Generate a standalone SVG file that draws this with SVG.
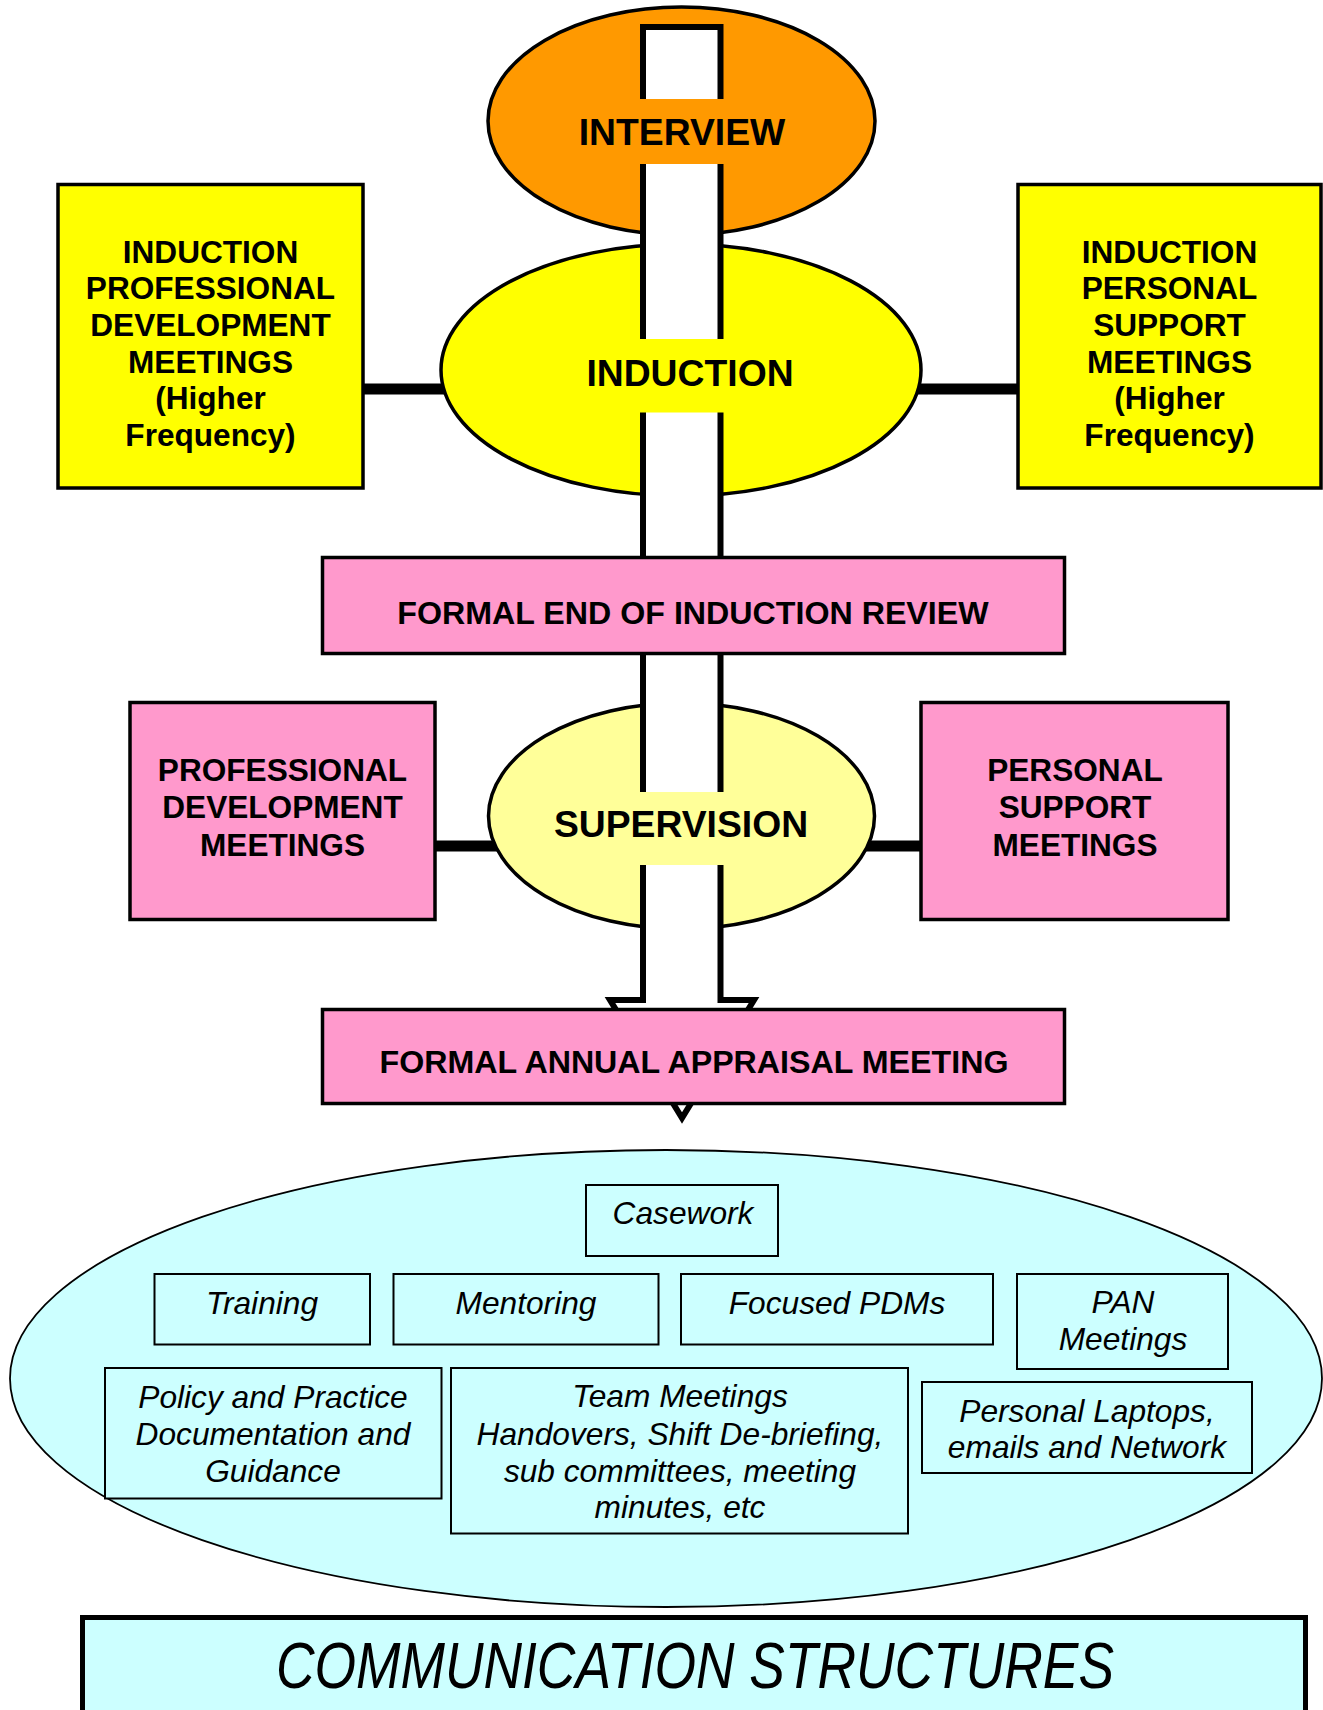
<svg xmlns="http://www.w3.org/2000/svg" width="1323" height="1710" viewBox="0 0 1323 1710">
<style>
.bold{font-family:"Liberation Sans",Arial,sans-serif;font-weight:bold;fill:#000;text-anchor:middle}
.ital{font-family:"Liberation Sans",Arial,sans-serif;font-style:italic;fill:#000;text-anchor:middle}
.big{font-size:37.3px}
.mid{font-size:32.2px}
.box{font-size:31.6px}
.sm{font-size:31.7px}
.thick{stroke:#000;stroke-width:3.5}
.thin{stroke:#000;stroke-width:2;fill:#CCFFFF}
.conn{stroke:#000;stroke-width:11;fill:none}
</style>
<rect width="1323" height="1710" fill="#fff"/>

<g id="connectors">
  <line class="conn" x1="363" y1="389" x2="470" y2="389"/>
  <line class="conn" x1="890" y1="389" x2="1018" y2="389"/>
  <line class="conn" x1="435" y1="846" x2="515" y2="846"/>
  <line class="conn" x1="850" y1="846" x2="921" y2="846"/>
</g>

<g id="interview">
  <ellipse class="thick" cx="681.5" cy="121" rx="193.5" ry="114" fill="#FF9900"/>
</g>
<g id="induction">
  <ellipse class="thick" cx="681" cy="370" rx="240" ry="126" fill="#FFFF00"/>
</g>
<g id="supervision">
  <ellipse class="thick" cx="681.5" cy="816" rx="193" ry="113" fill="#FFFF99"/>
</g>

<g id="induction-pd">
  <rect class="thick" x="58" y="184.5" width="305" height="303.5" fill="#FFFF00"/>
  <text class="bold box" x="210.5" y="262.7">INDUCTION</text>
  <text class="bold box" x="210.5" y="299.3">PROFESSIONAL</text>
  <text class="bold box" x="210.5" y="336">DEVELOPMENT</text>
  <text class="bold box" x="210.5" y="372.7">MEETINGS</text>
  <text class="bold box" x="210.5" y="409.3">(Higher</text>
  <text class="bold box" x="210.5" y="446">Frequency)</text>
</g>
<g id="induction-ps">
  <rect class="thick" x="1018" y="184.5" width="303" height="303.5" fill="#FFFF00"/>
  <text class="bold box" x="1169.5" y="262.7">INDUCTION</text>
  <text class="bold box" x="1169.5" y="299.3">PERSONAL</text>
  <text class="bold box" x="1169.5" y="336">SUPPORT</text>
  <text class="bold box" x="1169.5" y="372.7">MEETINGS</text>
  <text class="bold box" x="1169.5" y="409.3">(Higher</text>
  <text class="bold box" x="1169.5" y="446">Frequency)</text>
</g>
<g id="pd-meetings">
  <rect class="thick" x="130" y="702.5" width="305" height="217" fill="#FF99CC"/>
  <text class="bold box" x="282.5" y="780.7">PROFESSIONAL</text>
  <text class="bold box" x="282.5" y="818.3">DEVELOPMENT</text>
  <text class="bold box" x="282.5" y="855.7">MEETINGS</text>
</g>
<g id="ps-meetings">
  <rect class="thick" x="921" y="702.5" width="307" height="217" fill="#FF99CC"/>
  <text class="bold box" x="1075" y="780.7">PERSONAL</text>
  <text class="bold box" x="1075" y="818.3">SUPPORT</text>
  <text class="bold box" x="1075" y="855.7">MEETINGS</text>
</g>

<g id="flow-arrow">
  <path d="M643,27 H720.5 V1000 H754 L682,1118 L610,1000 H643 Z" fill="#fff" stroke="#000" stroke-width="6" stroke-linejoin="miter"/>
</g>

<g id="labels">
  <rect x="638" y="99" width="88" height="65" fill="#FF9900"/>
  <text class="bold big" x="682" y="145">INTERVIEW</text>
  <rect x="638" y="339" width="88" height="73.5" fill="#FFFF00"/>
  <text class="bold big" x="690" y="386">INDUCTION</text>
  <rect x="638" y="792" width="88" height="73" fill="#FFFF99"/>
  <text class="bold big" x="681" y="837">SUPERVISION</text>
</g>

<g id="end-induction-review">
  <rect class="thick" x="322.5" y="557.5" width="742" height="96" fill="#FF99CC"/>
  <text class="bold mid" x="693" y="624">FORMAL END OF INDUCTION REVIEW</text>
</g>
<g id="annual-appraisal">
  <rect class="thick" x="322.5" y="1009.5" width="742" height="94" fill="#FF99CC"/>
  <text class="bold mid" x="694" y="1073">FORMAL ANNUAL APPRAISAL MEETING</text>
</g>

<g id="communication-ellipse">
  <ellipse cx="666" cy="1378.5" rx="656" ry="228.5" fill="#CCFFFF" stroke="#000" stroke-width="1.8"/>
</g>
<g id="casework">
  <rect class="thin" x="586" y="1185" width="192" height="71"/>
  <text class="ital sm" x="683" y="1224">Casework</text>
</g>
<g id="training">
  <rect class="thin" x="154.5" y="1274" width="215.5" height="70.5"/>
  <text class="ital sm" x="262" y="1314">Training</text>
</g>
<g id="mentoring">
  <rect class="thin" x="393.5" y="1274" width="265" height="70.5"/>
  <text class="ital sm" x="526" y="1314">Mentoring</text>
</g>
<g id="focused-pdms">
  <rect class="thin" x="681" y="1274" width="312" height="70.5"/>
  <text class="ital sm" x="837" y="1314">Focused PDMs</text>
</g>
<g id="pan-meetings">
  <rect class="thin" x="1017" y="1274" width="211" height="95"/>
  <text class="ital sm" x="1123" y="1313.3">PAN</text>
  <text class="ital sm" x="1123" y="1350">Meetings</text>
</g>
<g id="policy">
  <rect class="thin" x="105" y="1368" width="336.5" height="130.5"/>
  <text class="ital sm" x="273" y="1408.3">Policy and Practice</text>
  <text class="ital sm" x="273" y="1445">Documentation and</text>
  <text class="ital sm" x="273" y="1481.7">Guidance</text>
</g>
<g id="team-meetings">
  <rect class="thin" x="451" y="1368" width="457" height="165.5"/>
  <text class="ital sm" x="680" y="1406.7">Team Meetings</text>
  <text class="ital sm" x="680" y="1445">Handovers, Shift De-briefing,</text>
  <text class="ital sm" x="680" y="1481.7">sub committees, meeting</text>
  <text class="ital sm" x="680" y="1518.3">minutes, etc</text>
</g>
<g id="laptops">
  <rect class="thin" x="922" y="1382" width="330" height="91"/>
  <text class="ital sm" x="1087" y="1421.7">Personal Laptops,</text>
  <text class="ital sm" x="1087" y="1458.3">emails and Network</text>
</g>

<g id="title">
  <rect x="82.5" y="1617.5" width="1223" height="200" fill="#CCFFFF" stroke="#000" stroke-width="5"/>
  <text class="ital" x="695" y="1688" font-size="64" textLength="838" lengthAdjust="spacingAndGlyphs">COMMUNICATION STRUCTURES</text>
</g>
</svg>
